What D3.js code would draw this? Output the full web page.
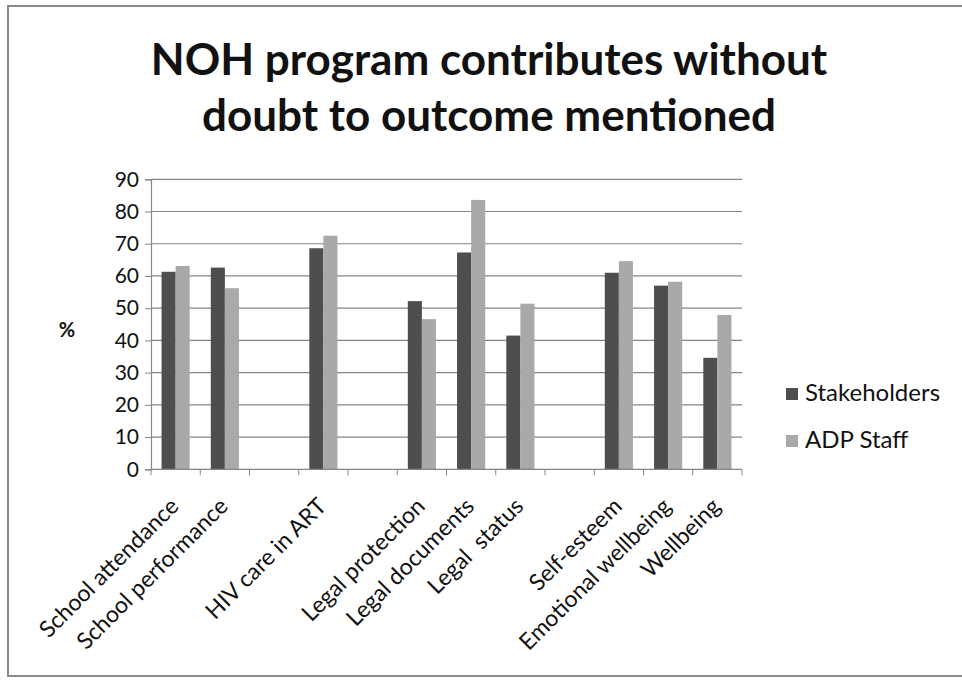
<!DOCTYPE html>
<html>
<head>
<meta charset="utf-8">
<script src="https://cdn.jsdelivr.net/npm/d3@7"></script>
<style>
  html, body { margin: 0; padding: 0; background: #fff; }
  svg text { font-family: Lato, "Open Sans", sans-serif; fill: #111; }
</style>
</head>
<body>
<svg id="chart" width="962" height="680"></svg>
<script>
// Outcome categories (empty strings are spacer slots between outcome groups)
const categories = [
  "School attendance", "School performance", "",
  "HIV care in ART", "",
  "Legal protection", "Legal documents", "Legal  status", "",
  "Self-esteem", "Emotional wellbeing", "Wellbeing"
];
const stakeholders = [61.3, 62.6, null, 68.6, null, 52.2, 67.3, 41.5, null, 61.0, 57.0, 34.6];
const adpStaff     = [63.1, 56.2, null, 72.5, null, 46.6, 83.6, 51.4, null, 64.6, 58.2, 47.9];
const seriesNames = ["Stakeholders", "ADP Staff"];
const yTicks = [0, 10, 20, 30, 40, 50, 60, 70, 80, 90];
const titleLines = ["NOH program contributes without", "doubt to outcome mentioned"];

const colors = ["#4e4e4e", "#a9a9a9"];
const svg = d3.select("#chart");

// Outer frame
svg.append("rect")
  .attr("x", 8).attr("y", 6).attr("width", 962).attr("height", 670)
  .attr("fill", "none").attr("stroke", "#8a8a8a").attr("stroke-width", 2);

const plot = { left: 151, right: 742, top: 179.3, bottom: 469.3 };

const x = d3.scaleBand()
  .domain(d3.range(categories.length))
  .range([plot.left, plot.right])
  .paddingInner(0).paddingOuter(0);
const inner = d3.scaleBand()
  .domain([0, 1])
  .range([0, x.bandwidth()])
  .paddingInner(0).paddingOuter(0.75);
const y = d3.scaleLinear().domain([0, 90]).range([plot.bottom, plot.top]);

// Gridlines
svg.append("g")
  .selectAll("line")
  .data(yTicks.filter(d => d > 0))
  .join("line")
  .attr("x1", plot.left).attr("x2", plot.right)
  .attr("y1", d => y(d)).attr("y2", d => y(d))
  .attr("stroke", "#858585").attr("stroke-width", 1.2);

// Bars
const rows = categories.map((c, i) => ({ i, vals: [stakeholders[i], adpStaff[i]] }));
const groups = svg.append("g").selectAll("g")
  .data(rows)
  .join("g")
  .attr("transform", d => `translate(${x(d.i)},0)`);
groups.selectAll("rect")
  .data(d => d.vals.map((v, s) => ({ v, s })).filter(e => e.v != null))
  .join("rect")
  .attr("x", d => inner(d.s))
  .attr("width", inner.bandwidth())
  .attr("y", d => y(d.v))
  .attr("height", d => y(0) - y(d.v))
  .attr("fill", d => colors[d.s]);

// Y axis
const yAxis = svg.append("g")
  .attr("transform", `translate(${plot.left},0)`)
  .call(d3.axisLeft(y).tickValues(yTicks).tickSize(6).tickPadding(6));
yAxis.select(".domain").attr("stroke", "#858585").attr("stroke-width", 1.2);
yAxis.selectAll(".tick line").attr("stroke", "#858585");
yAxis.selectAll("text")
  .style("font-family", "Lato, sans-serif").style("font-size", "21px").attr("fill", "#111");

// X axis with ticks at slot boundaries
svg.append("line")
  .attr("x1", plot.left).attr("x2", plot.right)
  .attr("y1", plot.bottom).attr("y2", plot.bottom)
  .attr("stroke", "#858585").attr("stroke-width", 1.2);
svg.append("g").selectAll("line")
  .data(d3.range(categories.length + 1))
  .join("line")
  .attr("x1", i => plot.left + i * x.step()).attr("x2", i => plot.left + i * x.step())
  .attr("y1", plot.bottom).attr("y2", plot.bottom + 6)
  .attr("stroke", "#858585");

// Rotated category labels
svg.append("g").selectAll("text")
  .data(rows.filter(d => categories[d.i] !== ""))
  .join("text")
  .attr("transform", d => `translate(${x(d.i) + x.bandwidth() / 2 - 7},${plot.bottom + 27}) rotate(-45)`)
  .attr("text-anchor", "end")
  .attr("dy", "0.7em")
  .style("font-size", "23px")
  .style("white-space", "pre")
  .text(d => categories[d.i]);

// Axis unit label
svg.append("text")
  .attr("x", 67).attr("y", 337)
  .attr("text-anchor", "middle")
  .style("font-size", "20px").style("font-weight", "bold")
  .text("%");

// Title
svg.append("g").selectAll("text")
  .data(titleLines)
  .join("text")
  .attr("x", 489).attr("y", (d, i) => 75 + i * 56)
  .attr("text-anchor", "middle")
  .style("font-size", "44px").style("font-weight", "bold")
  .text(d => d);

// Legend
const legend = svg.append("g").selectAll("g")
  .data(seriesNames)
  .join("g")
  .attr("transform", (d, i) => `translate(786,${388 + i * 47})`);
legend.append("rect")
  .attr("width", 12).attr("height", 12)
  .attr("fill", (d, i) => colors[i]);
legend.append("text")
  .attr("x", 19).attr("y", 13)
  .style("font-size", "24px")
  .text(d => d);
</script>
</body>
</html>
